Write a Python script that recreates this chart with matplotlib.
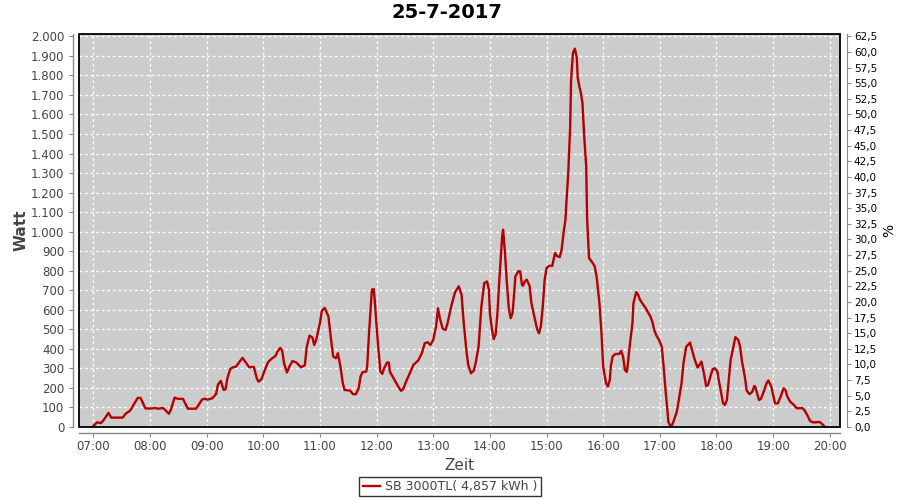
import matplotlib
matplotlib.use("Agg")
import matplotlib.pyplot as plt
from matplotlib.ticker import FixedLocator, FuncFormatter
from matplotlib.patches import Rectangle

times = ["06:59","07:04","07:08","07:11","07:16","07:19","07:31","07:34","07:39","07:42","07:47","07:50","07:55",
 "08:00","08:05","08:09","08:14","08:20","08:22","08:26","08:30","08:35","08:40","08:49","08:55","08:58",
 "09:01","09:06","09:10","09:12","09:15","09:18","09:20","09:22","09:25","09:28","09:31","09:35","09:38","09:42","09:45","09:50","09:53","09:55","09:58",
 "10:01","10:05","10:09","10:13","10:15","10:18","10:20","10:22","10:25","10:28","10:31","10:35","10:40","10:44","10:46","10:49","10:52","10:54","10:56",
 "11:00","11:02","11:05","11:09","11:11","11:14","11:17","11:19","11:22","11:24","11:26","11:32","11:35","11:38","11:41","11:43","11:45","11:49","11:50","11:52","11:55","11:57","11:58",
 "12:00","12:02","12:04","12:06","12:08","12:11","12:13","12:14","12:18","12:21","12:24","12:26","12:28","12:32","12:36","12:39","12:44","12:48","12:51","12:54","12:57",
 "13:00","13:03","13:05","13:07","13:10","13:13","13:15","13:19","13:23","13:27","13:30","13:32","13:35","13:37","13:40","13:43","13:45","13:48","13:51","13:54","13:57","13:59",
 "14:00","14:02","14:04","14:06","14:08","14:10","14:13","14:14","14:16","14:18","14:20","14:22","14:24","14:26","14:27","14:30","14:32","14:34","14:35","14:37","14:39","14:42","14:44","14:47","14:50","14:52","14:54","14:56","14:58",
 "15:00","15:03","15:06","15:08","15:09","15:11","15:14","15:16","15:18","15:20","15:21","15:23","15:25","15:26","15:28","15:30","15:32","15:33","15:35","15:36","15:38","15:40","15:42","15:43","15:44","15:45","15:49","15:51","15:53","15:56","15:58",
 "16:00","16:03","16:05","16:07","16:08","16:10","16:13","16:17","16:19","16:21","16:23","16:25","16:26","16:28","16:31","16:32","16:35","16:37","16:39","16:42","16:45","16:47","16:50","16:52","16:54","16:56","16:59",
 "17:02","17:04","17:06","17:08","17:09","17:11","17:13","17:15","17:18","17:20","17:23","17:25","17:28","17:30","17:32","17:34","17:37","17:40","17:42","17:44","17:47","17:49","17:51","17:54","17:56","17:58",
 "18:01","18:02","18:05","18:07","18:09","18:11","18:13","18:15","18:18","18:20","18:23","18:25","18:27","18:30","18:32","18:35","18:38","18:40","18:41","18:43","18:45","18:47","18:50","18:53","18:55","18:58",
 "19:00","19:02","19:05","19:08","19:11","19:13","19:15","19:18","19:22","19:25","19:28","19:31","19:33","19:36","19:39","19:42","19:45","19:49","19:51","19:54","19:55"]

watts = [0,24,20,36,72,48,48,67,84,108,149,149,96,
 94,97,94,97,68,87,150,144,144,94,94,140,145,
 140,147,169,217,236,190,193,250,297,306,309,335,354,326,306,308,251,232,244,
 284,332,350,364,386,405,391,326,279,313,338,330,306,316,410,468,458,420,446,
 532,595,610,566,480,361,352,378,301,230,190,186,168,168,198,258,280,284,309,480,703,706,651,
 515,395,284,272,301,330,330,284,250,224,198,185,193,241,284,318,340,378,429,434,420,
 446,515,608,557,503,497,528,617,689,720,677,549,395,318,275,289,330,412,617,737,745,703,
 583,506,450,472,583,754,976,1010,891,737,609,557,583,703,771,797,797,728,723,745,754,723,634,566,501,480,515,617,754,
 814,826,824,870,891,875,870,908,993,1061,1147,1301,1532,1779,1916,1937,1891,1788,1737,1720,1660,1480,1335,1061,968,865,839,822,771,634,497,
 309,224,207,241,309,361,374,374,390,361,292,282,318,412,532,634,691,677,651,629,609,591,566,540,497,472,446,
 412,309,190,87,27,5,10,36,79,138,224,326,412,421,432,395,344,304,318,335,267,210,215,267,296,301,
 284,250,173,121,113,138,241,344,412,460,446,412,335,258,186,168,181,210,207,173,138,144,181,224,238,207,
 164,121,121,156,198,190,156,130,113,96,96,97,87,62,32,24,24,26,19,5,0]

hour_ticks = list(range(7, 21))
watt_ticks = list(range(0, 2001, 100))
pct_ticks = [i * 2.5 for i in range(26)]
nominal_power = 3200.0
series_label = "SB 3000TL( 4,857 kWh )"
title = "25-7-2017"

def to_hours(s):
    h, m = s.split(":")
    return int(h) + int(m) / 60.0

x = [to_hours(t) for t in times]

fig = plt.figure(figsize=(9, 5), dpi=100)
fig.patch.set_facecolor("white")
ax = fig.add_axes([79/900, 1-427/500, (840-79)/900, (427-34)/500])
ax.set_facecolor("#cccccc")

ymax = 2012
ax.set_xlim(6.747, 20.18)
ax.set_ylim(0, ymax)

ax.plot(x, watts, color="#b40000", lw=1.7, zorder=3, label=series_label)

ax.xaxis.set_major_locator(FixedLocator(hour_ticks))
ax.xaxis.set_major_formatter(FuncFormatter(lambda v, p: "%02d:00" % int(round(v))))
ax.yaxis.set_major_locator(FixedLocator(watt_ticks))
ax.yaxis.set_major_formatter(FuncFormatter(lambda v, p: ("%d.%03d" % (int(v)//1000, int(v)%1000)) if v >= 1000 else "%d" % int(v)))

ax.grid(True, color="white", linestyle=(0, (2, 2)), linewidth=1.0, zorder=1)
ax.set_axisbelow(True)

for s in ["top", "right"]:
    ax.spines[s].set_visible(False)
for s in ["left", "bottom"]:
    ax.spines[s].set_position(("outward", 4))
    ax.spines[s].set_color("#888888")
    ax.spines[s].set_linewidth(1.0)

ax.add_patch(Rectangle((0, 0), 1, 1, transform=ax.transAxes, fill=False,
                       edgecolor="black", lw=1.3, zorder=5, clip_on=False))

ax.tick_params(axis="both", colors="#888888", labelcolor="#444444", labelsize=8.5, length=3, width=0.8)
ax.tick_params(axis="x", pad=2)

ax.set_xlabel("Zeit", fontsize=11, color="#444444", labelpad=4)
ax.set_ylabel("Watt", fontsize=11, color="#444444", fontweight="bold", labelpad=2)
fig.text(447/900, 1-13/500, title, fontsize=14, fontweight="bold", color="black", ha="center", va="center")

ax2 = ax.twinx()
ax2.set_ylim(0, ymax / nominal_power * 100)
ax2.yaxis.set_major_locator(FixedLocator(pct_ticks))
ax2.yaxis.set_major_formatter(FuncFormatter(lambda v, p: ("%.1f" % v).replace(".", ",")))
for s in ["top", "left", "bottom"]:
    ax2.spines[s].set_visible(False)
ax2.spines["right"].set_position(("outward", 5))
ax2.spines["right"].set_color("#888888")
ax2.tick_params(axis="y", colors="#888888", labelcolor="black", labelsize=7.5, length=3, width=0.8, pad=2)
ax2.set_ylabel("%", fontsize=10, color="black", labelpad=4)

leg = ax.legend(loc="upper center", bbox_to_anchor=(450/900, 1-477/500), bbox_transform=fig.transFigure,
                frameon=True, fancybox=False, fontsize=9, handlelength=1.4, borderpad=0.25,
                handletextpad=0.4, borderaxespad=0)
leg.get_frame().set_edgecolor("black")
leg.get_frame().set_linewidth(1.0)
for t in leg.get_texts():
    t.set_color("#444444")

fig.savefig("out.png", dpi=100)
